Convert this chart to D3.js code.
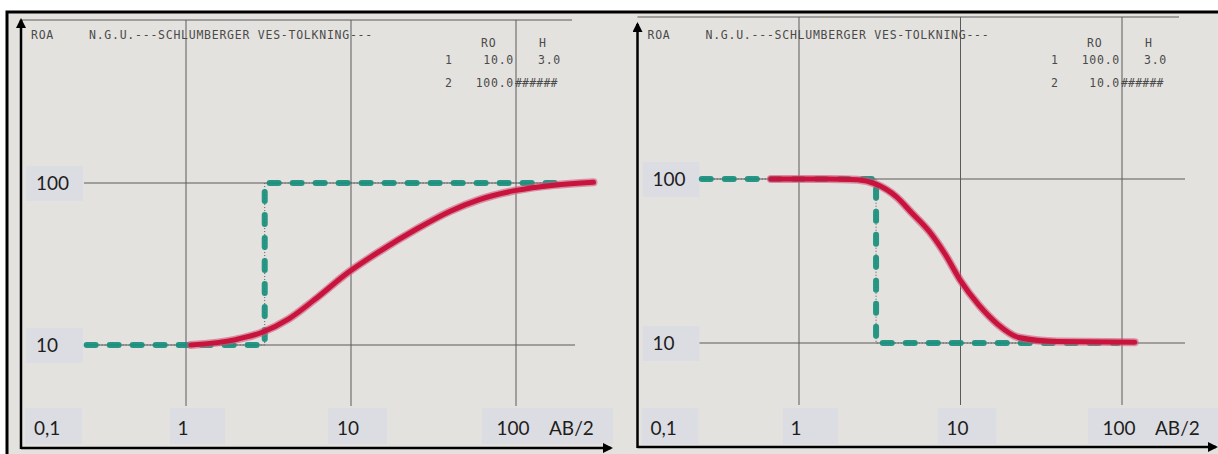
<!DOCTYPE html>
<html>
<head>
<meta charset="utf-8">
<script src="https://cdn.jsdelivr.net/npm/d3@7/dist/d3.min.js"></script>
<style>
  body { margin: 0; background: #fff; }
  svg { display: block; }
  .printed { font-family: "DejaVu Sans Mono", monospace; font-size: 11.5px; fill: #4a4a4a; letter-spacing: 0.75px; }
  .lbl { font-family: Lato, "Open Sans", sans-serif; font-size: 19px; fill: #1e1e1e; }
</style>
</head>
<body>
<div id="chart"></div>
<script>
// **** THE DATA ****

// axis ticks (log scales) and their labels
const xTicks = [0.1, 1, 10, 100]
const xTickLabels = ["0,1", "1", "10", "100"]
const yTicks = [10, 100]
const yTickLabels = ["10", "100"]
const xTitle = "AB/2"
const yTitle = "ROA"
const printedTitle = "N.G.U.---SCHLUMBERGER VES-TOLKNING---"

// left sheet: layer table + model (teal dashes) + apparent resistivity curve (red)
const leftRO = ["10.0", "100.0"]
const leftH = ["3.0", "######"]
const leftModelAB = [0.25, 3.0, 3.0, 190]
const leftModelROA = [10, 10, 100, 100]
const leftCurveAB = [1.07, 2.0, 2.85, 4.2, 6, 9.6, 15, 25, 40, 60, 100, 170, 295]
const leftCurveROA = [10.0, 10.8, 11.9, 14.5, 19, 28, 38, 52, 67, 79, 90, 97, 101]

// right sheet
const rightRO = ["100.0", "10.0"]
const rightH = ["3.0", "######"]
const rightModelAB = [0.25, 3.0, 3.0, 94]
const rightModelROA = [100, 100, 10, 10]
const rightCurveAB = [0.67, 1.5, 2.3, 3.0, 4.0, 5.0, 6.5, 8.0, 10, 13, 17, 23, 40, 120]
const rightCurveROA = [100, 100, 99, 93, 78, 62, 47, 35, 24, 17, 13, 10.8, 10.2, 10.1]

//------------------------------------------------------------------------------

// **** THE SETUP ****

const W = 1218, H = 454

// where each photographed sheet sits on the page
const panels = [
  { ax: 21, x100: 516, y10: 345, y100: 183, topY: 20, topEnd: 572, gridBot: 406, axisY: 448, axisEnd: 611,
    hx0: 84, hx1: 575, arrowTop: 20,
    ro: leftRO, h: leftH, mAB: leftModelAB, mROA: leftModelROA, cAB: leftCurveAB, cROA: leftCurveROA },
  { ax: 637.5, x100: 1122, y10: 343, y100: 179, topY: 17, topEnd: 1179, gridBot: 405, axisY: 447, axisEnd: 1216,
    hx0: 698, hx1: 1185, arrowTop: 24,
    ro: rightRO, h: rightH, mAB: rightModelAB, mROA: rightModelROA, cAB: rightCurveAB, cROA: rightCurveROA }
]

const svg = d3.select("#chart").append("svg")
    .attr("width", W)
    .attr("height", H)

const defs = svg.append("defs")
defs.append("marker")
    .attr("id", "arrow")
    .attr("viewBox", "0 0 10 10")
    .attr("refX", 8).attr("refY", 5)
    .attr("markerWidth", 4).attr("markerHeight", 4)
    .attr("orient", "auto")
  .append("path")
    .attr("d", "M0,0 L10,5 L0,10 z")
    .attr("fill", "#000")

// paper
svg.append("rect")
    .attr("x", 7).attr("y", 12)
    .attr("width", W - 7).attr("height", H - 12)
    .attr("fill", "#e4e2df")

// black frame (top + left)
svg.append("path")
    .attr("d", `M7,${H} L7,12 L${W},12`)
    .attr("fill", "none")
    .attr("stroke", "#000")
    .attr("stroke-width", 3)

panels.forEach((p) => {
  const g = svg.append("g")

  // --> SCALES
  const x = d3.scaleLog().domain([0.1, 100]).range([p.ax, p.x100])
  const y = d3.scaleLog().domain([10, 100]).range([p.y10, p.y100])

  // printed frame top line
  g.append("line")
      .attr("x1", p.ax).attr("x2", p.topEnd)
      .attr("y1", p.topY).attr("y2", p.topY)
      .attr("stroke", "#5a5a5a").attr("stroke-width", 1.2)

  // vertical grid lines (decades)
  g.selectAll(".vgrid")
      .data(xTicks.slice(1))
    .enter().append("line")
      .attr("x1", (d) => x(d)).attr("x2", (d) => x(d))
      .attr("y1", p.topY).attr("y2", p.gridBot)
      .attr("stroke", "#5a5a5a").attr("stroke-width", 1)

  // horizontal grid lines
  g.selectAll(".hgrid")
      .data(yTicks)
    .enter().append("line")
      .attr("x1", p.hx0).attr("x2", p.hx1)
      .attr("y1", (d) => y(d)).attr("y2", (d) => y(d))
      .attr("stroke", "#5a5a5a").attr("stroke-width", 1.2)

  // printed header text
  g.append("text").attr("class", "printed")
      .attr("x", p.ax + 10).attr("y", 39).text(yTitle)
  g.append("text").attr("class", "printed")
      .attr("x", p.ax + 68).attr("y", 39).text(printedTitle)

  // layer table
  const tx = x(100)
  g.append("text").attr("class", "printed").attr("x", tx - 35).attr("y", 47).text("RO")
  g.append("text").attr("class", "printed").attr("x", tx + 23).attr("y", 47).text("H")
  p.ro.forEach((v, i) => {
    const by = i === 0 ? 64 : 87
    g.append("text").attr("class", "printed").attr("x", tx - 71).attr("y", by).text(i + 1)
    g.append("text").attr("class", "printed").attr("x", tx - 2).attr("y", by)
        .attr("text-anchor", "end").text(v)
    g.append("text").attr("class", "printed")
        .attr("x", i === 0 ? tx + 45 : tx - 1).attr("y", by)
        .attr("text-anchor", i === 0 ? "end" : "start")
        .style("letter-spacing", i === 0 ? "0.75px" : "0.2px")
        .text(p.h[i])
  })

  // label boxes + y tick labels
  g.selectAll(".ybox")
      .data(yTicks)
    .enter().append("rect")
      .attr("x", p.ax + 5).attr("width", 57)
      .attr("y", (d) => y(d) - 17).attr("height", 35)
      .attr("fill", "#dcdde2")
  g.selectAll(".ylab")
      .data(yTicks)
    .enter().append("text")
      .attr("class", "lbl")
      .attr("x", p.ax + 15)
      .attr("y", (d) => y(d) + 7)
      .text((d, i) => yTickLabels[i])

  // x tick label boxes
  const boxes = [
    [x(0.1) + 4, x(0.1) + 61],
    [x(1) - 16, x(1) + 39],
    [x(10) - 23, x(10) + 36],
    [x(100) - 34, p.axisEnd + 2]
  ]
  g.selectAll(".xbox")
      .data(boxes)
    .enter().append("rect")
      .attr("x", (d) => d[0]).attr("width", (d) => d[1] - d[0])
      .attr("y", 408).attr("height", 36)
      .attr("fill", "#dcdde2")
  g.selectAll(".xlab")
      .data(xTicks)
    .enter().append("text")
      .attr("class", "lbl")
      .attr("x", (d, i) => i === 0 ? x(d) + 13 : x(d) - 3)
      .attr("y", 435)
      .attr("text-anchor", (d, i) => i === 0 ? "start" : "middle")
      .text((d, i) => xTickLabels[i])
  g.append("text")
      .attr("class", "lbl")
      .attr("x", x(100) + 33).attr("y", 435)
      .text(xTitle)

  // --> MODEL (printed dotted line + teal marker dashes)
  const model = p.mAB.map((d, i) => ({ ab: d, roa: p.mROA[i] }))
  const mline = d3.line().x((d) => x(d.ab)).y((d) => y(d.roa))
  g.append("path")
      .datum(model)
      .attr("d", mline)
      .attr("fill", "none")
      .attr("stroke", "#555")
      .attr("stroke-width", 1)
      .attr("stroke-dasharray", "1 2")
  g.append("path")
      .datum(model)
      .attr("d", mline)
      .attr("fill", "none")
      .attr("stroke", "#178f7c")
      .attr("stroke-width", 6)
      .attr("stroke-linecap", "round")
      .attr("stroke-dasharray", "9 14")
      .attr("opacity", 0.92)

  // --> APPARENT RESISTIVITY CURVE
  const curve = p.cAB.map((d, i) => ({ ab: d, roa: p.cROA[i] }))
  const cline = d3.line()
      .x((d) => x(d.ab))
      .y((d) => y(d.roa))
      .curve(d3.curveMonotoneX)
  g.append("path")
      .datum(curve)
      .attr("d", cline)
      .attr("fill", "none")
      .attr("stroke", "#d0557a")
      .attr("stroke-width", 8)
      .attr("stroke-linecap", "round")
      .attr("opacity", 0.6)
  g.append("path")
      .datum(curve)
      .attr("d", cline)
      .attr("fill", "none")
      .attr("stroke", "#c8143c")
      .attr("stroke-width", 5)
      .attr("stroke-linecap", "round")

  // --> AXES with arrows
  g.append("line")
      .attr("x1", p.ax).attr("x2", p.axisEnd)
      .attr("y1", p.axisY).attr("y2", p.axisY)
      .attr("stroke", "#000").attr("stroke-width", 2.5)
      .attr("marker-end", "url(#arrow)")
  g.append("line")
      .attr("x1", p.ax).attr("x2", p.ax)
      .attr("y1", p.axisY + 1).attr("y2", p.arrowTop)
      .attr("stroke", "#000").attr("stroke-width", 2.5)
      .attr("marker-end", "url(#arrow)")
})
</script>
</body>
</html>
